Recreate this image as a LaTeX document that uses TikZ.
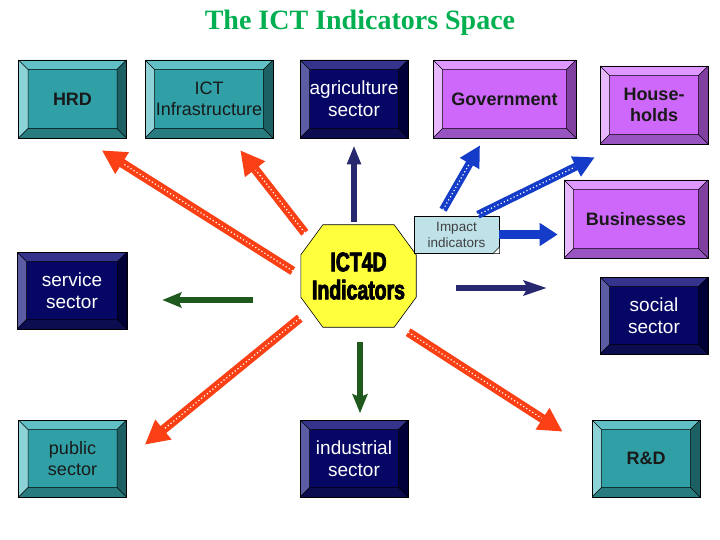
\documentclass[tikz,border=0pt]{standalone}
\usepackage{fontspec}
\setmainfont{Liberation Sans}
\newfontfamily\titlefont{Liberation Serif}
\newfontfamily\stopfont[FakeStretch=0.72,FakeBold=3]{Liberation Sans}
\usepackage{tikz}
\usetikzlibrary{arrows.meta, positioning, calc, backgrounds}
\definecolor{tealFace}{RGB}{48,160,166}
\definecolor{tealTop}{RGB}{96,192,198}
\definecolor{tealLeft}{RGB}{140,210,214}
\definecolor{tealRight}{RGB}{28,96,100}
\definecolor{tealBottom}{RGB}{40,124,128}
\definecolor{navyFace}{RGB}{6,6,100}
\definecolor{navyTop}{RGB}{52,52,140}
\definecolor{navyLeft}{RGB}{92,92,165}
\definecolor{navyRight}{RGB}{0,0,55}
\definecolor{navyBottom}{RGB}{12,12,80}
\definecolor{lilaFace}{RGB}{206,104,250}
\definecolor{lilaTop}{RGB}{222,152,255}
\definecolor{lilaLeft}{RGB}{232,184,255}
\definecolor{lilaRight}{RGB}{128,64,160}
\definecolor{lilaBottom}{RGB}{152,84,192}
\definecolor{tituloVerde}{RGB}{0,176,80}
\definecolor{amarilloStop}{RGB}{255,255,60}
\definecolor{celesteImpact}{RGB}{190,226,232}
\definecolor{rojoFlecha}{RGB}{250,64,20}
\definecolor{azulFlecha}{RGB}{20,60,200}
\definecolor{navyFlecha}{RGB}{40,40,110}
\definecolor{verdeFlecha}{RGB}{30,90,30}

\begin{document}
\begin{tikzpicture}[
  x=1pt, y=-1pt,
  bevel/.style n args={4}{path picture={
      \coordinate (pA) at (path picture bounding box.north west);
      \coordinate (pB) at (path picture bounding box.north east);
      \coordinate (pC) at (path picture bounding box.south east);
      \coordinate (pD) at (path picture bounding box.south west);
      \coordinate (pa) at ($(pA)+(9.5pt,-9.5pt)$);
      \coordinate (pb) at ($(pB)+(-9.5pt,-9.5pt)$);
      \coordinate (pc) at ($(pC)+(-9.5pt,9.5pt)$);
      \coordinate (pd) at ($(pD)+(9.5pt,9.5pt)$);
      \fill[#1] (pA) -- (pB) -- (pb) -- (pa) -- cycle;
      \fill[#2] (pA) -- (pa) -- (pd) -- (pD) -- cycle;
      \fill[#3] (pB) -- (pC) -- (pc) -- (pb) -- cycle;
      \fill[#4] (pD) -- (pd) -- (pc) -- (pC) -- cycle;
      \draw[black, line width=0.5pt] (pa) rectangle (pc)
        (pA) -- (pa) (pB) -- (pb) (pC) -- (pc) (pD) -- (pd);
    }},
  box/.style={rectangle, draw=black, line width=0.6pt, inner sep=0pt,
              align=center, minimum width=108pt, minimum height=78pt,
              font=\fontsize{18}{21}\selectfont},
  tealbox/.style={box, fill=tealFace, text=black!90,
                  bevel={tealTop}{tealLeft}{tealRight}{tealBottom}},
  navybox/.style={box, fill=navyFace, text=white,
                  font=\fontsize{19}{22}\selectfont,
                  bevel={navyTop}{navyLeft}{navyRight}{navyBottom}},
  lilabox/.style={box, fill=lilaFace, text=black!90,
                  bevel={lilaTop}{lilaLeft}{lilaRight}{lilaBottom}},
  impactnote/.style={rectangle, draw=black, line width=0.5pt, fill=celesteImpact,
                     minimum width=85pt, minimum height=37pt, inner sep=0pt,
                     align=center, text=black!75,
                     font=\fontsize{13.5}{16}\selectfont},
  redarr/.style={draw=rojoFlecha, line width=9pt,
                 -{Triangle[length=24pt, width=24pt]},
                 postaction={draw=white, line width=1.2pt,
                             dash pattern=on 1.2pt off 2.4pt, shorten >=25pt, -}},
  bluearr/.style={draw=azulFlecha, line width=8pt,
                  -{Triangle[length=21pt, width=21pt]},
                  postaction={draw=white, line width=1.2pt,
                              dash pattern=on 1.2pt off 2.4pt, shorten >=22pt, -}},
  solidblue/.style={draw=azulFlecha, line width=8.5pt,
                    -{Triangle[length=18pt, width=22pt]}},
  navyarr/.style={draw=navyFlecha, line width=6pt,
                  -{Triangle[length=19pt, width=13pt]}},
  navyright/.style={draw=navyFlecha, line width=6.5pt,
                    -{Stealth[length=23pt, width=15pt, inset=4pt]}},
  greenarr/.style={draw=verdeFlecha, line width=6.5pt,
                   -{Stealth[length=19pt, width=15pt, inset=3pt]}}
]
  \useasboundingbox (0,0) rectangle (720,540);

  % title
  \node[text=tituloVerde, font=\titlefont\bfseries\fontsize{28}{32}\selectfont]
    (titulo) at (360,23) {The ICT Indicators Space};

  % top row
  \node[tealbox] (hrd) at (72.5,99) {\bfseries HRD};
  \node[tealbox, minimum width=128pt] (infra) at (209,99) {ICT\\Infrastructure};
  \node[navybox] (agri) at (354,99) {agriculture\\sector};
  \node[lilabox, minimum width=143pt] (gov) at (504.5,99) {\bfseries Government};
  \node[lilabox] (house) at (654,105) {\bfseries House-\\\bfseries holds};

  % middle
  \node[lilabox, minimum width=144pt] (bus) at (636,219) {\bfseries Businesses};
  \node[navybox, minimum height=77pt] (social) at (654,315.5) {social\\sector};
  \node[navybox, minimum width=110pt, minimum height=77pt] (service) at (72,290.5) {service\\sector};

  % bottom row
  \node[tealbox, minimum height=77pt] (public) at (72.5,458.5) {public\\sector};
  \node[navybox, minimum height=77pt] (indus) at (354,458.5) {industrial\\sector};
  \node[tealbox, minimum height=77pt] (rd) at (646,458.5) {\bfseries R\&D};

  % centre
  \node[minimum width=115pt, minimum height=102pt, inner sep=0pt, align=center,
        font=\stopfont\bfseries\fontsize{27}{28}\selectfont] (ict) at (358.5,276)
        {ICT4D\\Indicators};
  \begin{scope}[on background layer]
    \draw[fill=amarilloStop, line width=0.6pt]
      ($(ict.north west)+(22,0)$) -- ($(ict.north east)+(-22,0)$)
      -- ($(ict.north east)+(0,30)$) -- ($(ict.south east)+(0,-30)$)
      -- ($(ict.south east)+(-22,0)$) -- ($(ict.south west)+(22,0)$)
      -- ($(ict.south west)+(0,-30)$) -- ($(ict.north west)+(0,30)$) -- cycle;
  \end{scope}
  \node[impactnote] (impact) at (456.5,234.5) {Impact\\indicators};
  \fill[white] (impact.south east) -- ++(-6,0) -- ++(6,-6) -- cycle;
  \draw[line width=0.5pt] ($(impact.south east)+(-6,0)$) -- ++(6,-6);

  % arrows out of the centre
  \draw[redarr] ([xshift=-8pt,yshift=5pt]ict.west) -- ([xshift=-25pt,yshift=-12pt]hrd.south east);
  \draw[redarr] ([xshift=4pt,yshift=-8pt]ict.north west) -- ([xshift=-33pt,yshift=-12pt]infra.south east);
  \draw[redarr] ([xshift=-1pt,yshift=9pt]ict.south west) -- ([xshift=18pt,yshift=-25pt]public.north east);
  \draw[redarr] ([xshift=-8pt,yshift=-5pt]ict.south east) -- ([xshift=-29pt,yshift=-12pt]rd.north west);
  \draw[navyarr] ([yshift=3pt]agri.south |- ict.north) -- ([yshift=-7pt]agri.south);
  \draw[greenarr] ([xshift=-48pt,yshift=-24pt]ict.west) -- ([xshift=35pt,yshift=-9.5pt]service.east);
  \draw[greenarr] ([xshift=1.5pt,yshift=-15pt]ict.south) -- ([xshift=6pt,yshift=6.5pt]indus.north);
  \draw[navyright] ([xshift=40pt,yshift=-12pt]ict.east) -- ([xshift=-53pt,yshift=27.5pt]social.west);

  % impact indicators
  \draw[bluearr] ([xshift=-13.5pt,yshift=6pt]impact.north) -- ([xshift=-24.5pt,yshift=-7pt]gov.south);
  \draw[bluearr] ([xshift=21.5pt,yshift=1pt]impact.north) -- ([xshift=-5pt,yshift=-13pt]house.south west);
  \draw[solidblue, shorten >=6pt] (impact.east) -- (impact.east -| bus.west);
\end{tikzpicture}
\end{document}
